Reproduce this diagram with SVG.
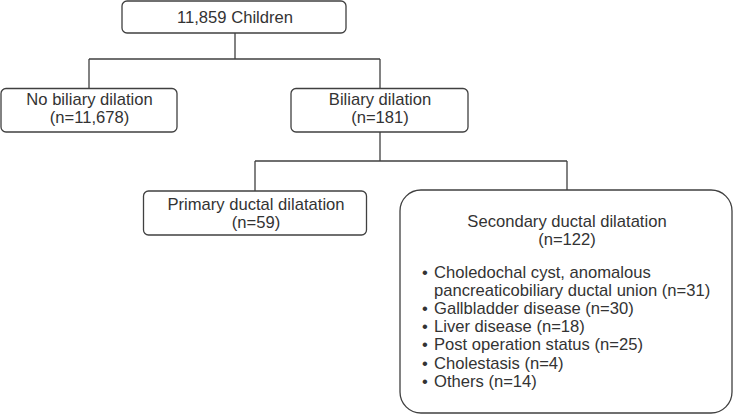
<svg xmlns="http://www.w3.org/2000/svg" width="733" height="415" viewBox="0 0 733 415">
<style>
.box{fill:#fff;stroke:#404040;stroke-width:1.3}
.ln{fill:none;stroke:#404040;stroke-width:1.3}
text{font-family:"Liberation Sans",Arial,sans-serif;font-size:16.6px;fill:#333}
.c{text-anchor:middle}
.b{font-size:17px}
</style>
<rect width="733" height="415" fill="#fff"/>
<g id="connectors">
<path class="ln" d="M235,33 V59 M89,59 H380 M89,59 V88 M380,59 V88"/>
<path class="ln" d="M380,132 V161 M255,161 H567 M255,161 V191 M567,161 V190"/>
</g>
<g id="children">
<rect class="box" x="122" y="1" width="224" height="32" rx="5"/>
<text class="c" x="235" y="23">11,859 Children</text>
</g>
<g id="no-biliary">
<rect class="box" x="1" y="88.5" width="176" height="43.5" rx="5"/>
<text class="c" x="89.5" y="105">No biliary dilation</text>
<text class="c" x="89.5" y="123">(n=11,678)</text>
</g>
<g id="biliary">
<rect class="box" x="291" y="88.5" width="177" height="43.5" rx="5"/>
<text class="c" x="380" y="105">Biliary dilation</text>
<text class="c" x="380" y="123">(n=181)</text>
</g>
<g id="primary">
<rect class="box" x="143.5" y="191" width="223" height="44" rx="5"/>
<text class="c" x="256" y="210">Primary ductal dilatation</text>
<text class="c" x="256" y="228">(n=59)</text>
</g>
<g id="secondary">
<rect class="box" x="400" y="190" width="332" height="223" rx="21"/>
<text class="c" x="567" y="227">Secondary ductal dilatation</text>
<text class="c" x="567" y="245">(n=122)</text>
<g class="b">
<text x="422" y="278">•</text><text x="434" y="278">Choledochal cyst, anomalous</text>
<text x="434" y="296">pancreaticobiliary ductal union (n=31)</text>
<text x="422" y="314">•</text><text x="434" y="314">Gallbladder disease (n=30)</text>
<text x="422" y="332">•</text><text x="434" y="332">Liver disease (n=18)</text>
<text x="422" y="350">•</text><text x="434" y="350">Post operation status (n=25)</text>
<text x="422" y="369">•</text><text x="434" y="369">Cholestasis (n=4)</text>
<text x="422" y="387">•</text><text x="434" y="387">Others (n=14)</text>
</g>
</g>
</svg>
